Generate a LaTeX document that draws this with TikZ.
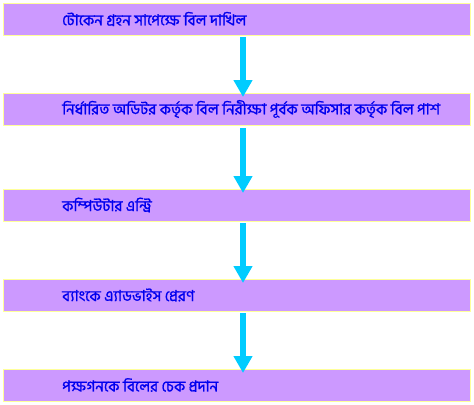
\documentclass[tikz,border=0pt]{standalone}
\usepackage{fontspec}
\newfontfamily\bnfont[Script=Bengali,FakeBold=1.2]{Hind Siliguri}
\usetikzlibrary{arrows.meta}
\definecolor{boxfill}{HTML}{CC99FF}
\definecolor{boxline}{HTML}{FFFF99}
\definecolor{txtblue}{HTML}{0000EE}
\definecolor{arrowcyan}{HTML}{00CCFF}
\tikzset{
  stepbox/.style={draw=boxline, line width=0.8bp, fill=boxfill, minimum width=467bp, minimum height=32bp, inner sep=0pt, anchor=north west},
  steptext/.style={anchor=west, text=txtblue, font=\bnfont\fontsize{15.2}{17}\selectfont, inner sep=0pt},
  flowarrow/.style={draw=arrowcyan, line width=6bp, -{Triangle[width=18bp,length=17bp]}, shorten >=-4bp}
}
\begin{document}
\begin{tikzpicture}[x=1bp,y=-1bp]
\useasboundingbox (0,0) rectangle (474,404);
\node[stepbox] (b1) at (3,3) {};
\node[stepbox] (b2) at (3,93) {};
\node[stepbox] (b3) at (3,189) {};
\node[stepbox] (b4) at (3,279) {};
\node[stepbox] (b5) at (3,369) {};
\node[steptext] (t1) at (62,19) {টোকেন গ্রহন সাপেক্ষে বিল দাখিল};
\node[steptext] (t2) at (62,109) {নির্ধারিত অডিটর কর্তৃক বিল নিরীক্ষা পূর্বক অফিসার কর্তৃক বিল পাশ};
\node[steptext] (t3) at (62,205) {কম্পিউটার এন্ট্রি};
\node[steptext] (t4) at (62,295) {ব্যাংকে এ্যাডভাইস প্রেরণ};
\node[steptext] (t5) at (62,385) {পক্ষগনকে বিলের চেক প্রদান};
\coordinate (a1s) at (243,37); \coordinate (a1e) at (243,93);
\coordinate (a2s) at (243,128); \coordinate (a2e) at (243,189);
\coordinate (a3s) at (243,223); \coordinate (a3e) at (243,279);
\coordinate (a4s) at (243,313); \coordinate (a4e) at (243,369);
\draw[flowarrow] (a1s) -- (a1e);
\draw[flowarrow] (a2s) -- (a2e);
\draw[flowarrow] (a3s) -- (a3e);
\draw[flowarrow] (a4s) -- (a4e);
\end{tikzpicture}
\end{document}
